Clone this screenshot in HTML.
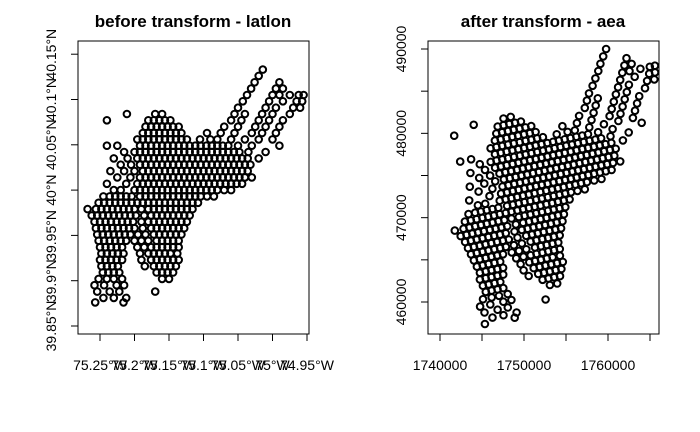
<!DOCTYPE html>
<html><head><meta charset="utf-8"><style>
html,body{margin:0;padding:0;background:#fff;}
svg{display:block;font-family:"Liberation Sans",Arial,sans-serif;}
</style></head><body>
<svg id="chart" width="700" height="432" viewBox="0 0 700 432">
<rect width="700" height="432" fill="#fff"/>
<text x="193" y="27" text-anchor="middle" font-size="17" font-weight="bold">before transform - latlon</text>
<text x="543" y="27" text-anchor="middle" font-size="17" font-weight="bold">after transform - aea</text>
<g id="leftPts"></g>
<g id="rightPts"></g>
<g id="leftAxes"></g>
<g id="rightAxes"></g>
<rect x="78" y="41" width="231" height="293" fill="none" stroke="#000"/>
<rect x="428" y="41" width="231" height="293" fill="none" stroke="#000"/>
</svg>
<script>
// rows: [latitude N, [longitudes W...]]
const rows = [
[40.133,[75.014]],
[40.126,[75.020]],
[40.119,[75.026,74.990]],
[40.112,[75.031,74.995,74.985]],
[40.105,[75.037,75.000,74.990,74.975,74.962,74.955]],
[40.098,[75.043,75.005,74.985,74.965,74.957]],
[40.091,[75.050,75.010,74.995,74.970,74.960]],
[40.084,[75.211,75.170,75.160,75.055,75.040,75.015,75.000,74.975]],
[40.077,[75.240,75.180,75.172,75.164,75.156,75.148,75.060,75.045,75.020,75.005,74.985]],
[40.070,[75.184,75.176,75.168,75.160,75.152,75.144,75.136,75.070,75.050,75.025,75.010,74.990]],
[40.063,[75.188,75.180,75.172,75.164,75.156,75.148,75.140,75.132,75.095,75.075,75.055,75.030,75.015,74.995]],
[40.056,[75.196,75.188,75.180,75.172,75.164,75.156,75.148,75.140,75.132,75.124,75.105,75.090,75.080,75.060,75.040,75.020,75.000]],
[40.049,[75.240,75.225,75.192,75.184,75.176,75.168,75.160,75.152,75.144,75.136,75.128,75.120,75.112,75.104,75.096,75.088,75.080,75.072,75.064,75.050,75.030,74.990]],
[40.042,[75.215,75.200,75.192,75.184,75.176,75.168,75.160,75.152,75.144,75.136,75.128,75.120,75.112,75.104,75.096,75.088,75.080,75.072,75.064,75.056,75.048,75.035,75.010]],
[40.035,[75.230,75.210,75.196,75.188,75.180,75.172,75.164,75.156,75.148,75.140,75.132,75.124,75.116,75.108,75.100,75.092,75.084,75.076,75.068,75.060,75.052,75.044,75.036,75.020]],
[40.028,[75.220,75.205,75.192,75.184,75.176,75.168,75.160,75.152,75.144,75.136,75.128,75.120,75.112,75.104,75.096,75.088,75.080,75.072,75.064,75.056,75.048,75.040,75.032]],
[40.021,[75.235,75.215,75.200,75.188,75.180,75.172,75.164,75.156,75.148,75.140,75.132,75.124,75.116,75.108,75.100,75.092,75.084,75.076,75.068,75.060,75.052,75.044,75.036]],
[40.014,[75.225,75.206,75.192,75.184,75.176,75.168,75.160,75.152,75.144,75.136,75.128,75.120,75.112,75.104,75.096,75.088,75.080,75.072,75.064,75.056,75.048,75.040,75.030]],
[40.007,[75.240,75.212,75.196,75.188,75.180,75.172,75.164,75.156,75.148,75.140,75.132,75.124,75.116,75.108,75.100,75.092,75.084,75.076,75.068,75.060,75.052,75.044]],
[40.000,[75.230,75.220,75.200,75.192,75.184,75.176,75.168,75.160,75.152,75.144,75.136,75.128,75.120,75.112,75.104,75.096,75.088,75.080,75.070,75.060]],
[39.993,[75.245,75.236,75.228,75.220,75.212,75.204,75.192,75.184,75.176,75.168,75.160,75.152,75.144,75.136,75.128,75.120,75.112,75.104,75.095,75.085]],
[39.986,[75.252,75.244,75.236,75.228,75.220,75.212,75.204,75.196,75.188,75.180,75.172,75.164,75.156,75.148,75.140,75.132,75.124,75.116,75.108]],
[39.979,[75.268,75.256,75.248,75.240,75.232,75.224,75.216,75.208,75.200,75.190,75.180,75.172,75.164,75.156,75.148,75.140,75.132,75.124,75.116]],
[39.972,[75.262,75.254,75.246,75.238,75.230,75.222,75.214,75.206,75.198,75.186,75.176,75.168,75.160,75.152,75.144,75.136,75.128,75.120]],
[39.965,[75.258,75.250,75.242,75.234,75.226,75.218,75.210,75.202,75.190,75.180,75.172,75.164,75.156,75.148,75.140,75.132,75.124]],
[39.958,[75.256,75.248,75.240,75.232,75.224,75.216,75.208,75.200,75.188,75.176,75.168,75.160,75.152,75.144,75.136,75.128]],
[39.951,[75.254,75.246,75.238,75.230,75.222,75.214,75.206,75.195,75.184,75.172,75.164,75.156,75.148,75.140,75.132]],
[39.944,[75.252,75.244,75.236,75.228,75.220,75.212,75.200,75.190,75.180,75.168,75.160,75.152,75.144,75.136]],
[39.937,[75.250,75.242,75.234,75.226,75.218,75.196,75.186,75.176,75.168,75.160,75.152,75.144,75.136]],
[39.930,[75.248,75.240,75.232,75.224,75.216,75.192,75.180,75.172,75.164,75.156,75.148,75.138]],
[39.923,[75.250,75.242,75.234,75.226,75.218,75.190,75.176,75.168,75.160,75.152,75.144,75.136]],
[39.916,[75.248,75.240,75.232,75.224,75.185,75.172,75.164,75.156,75.148,75.140]],
[39.909,[75.246,75.238,75.230,75.222,75.168,75.160,75.152,75.144]],
[39.902,[75.252,75.240,75.230,75.218,75.160,75.150]],
[39.895,[75.258,75.244,75.226,75.215]],
[39.888,[75.254,75.236,75.222,75.170]],
[39.881,[75.245,75.230,75.212]],
[39.876,[75.257,75.216]]
];
const latTicks = [39.85,39.9,39.95,40,40.05,40.1,40.15];
const latTickLabels = ["39.85°N","39.9°N","39.95°N","40°N","40.05°N","40.1°N","40.15°N"];
const lonTicks = [75.25,75.2,75.15,75.1,75.05,75,74.95];
const lonTickLabels = ["75.25°W","75.2°W","75.15°W","75.1°W","75.05°W","75°W","74.95°W"];
const aeaXTicks = [1740000,1745000,1750000,1755000,1760000,1765000];
const aeaXLabels = ["1740000","","1750000","","1760000",""];
const aeaYTicks = [460000,465000,470000,475000,480000,485000,490000];
const aeaYLabels = ["460000","","470000","","480000","","490000"];

const NS="http://www.w3.org/2000/svg";
function mk(tag,attrs,parent){const e=document.createElementNS(NS,tag);for(const k in attrs)e.setAttribute(k,attrs[k]);parent.appendChild(e);return e;}
function lxW(w){return 100+(75.25-w)/0.05*34.5;}
function lyN(n){return 326-(n-39.85)/0.05*45.3;}
function rx(X){return 440+(X-1740000)*0.0084;}
function ry(Y){return 302-(Y-460000)*0.008433;}
// spherical Albers equal area with empirical easting calibration
function aea(lonW,lat){
  const d=Math.PI/180,R=6371000,p1=29.5*d,p2=45.5*d,p0=37.5*d;
  const n=(Math.sin(p1)+Math.sin(p2))/2,C=Math.cos(p1)**2+2*n*Math.sin(p1);
  const rho=R*Math.sqrt(C-2*n*Math.sin(lat*d))/n,rho0=R*Math.sqrt(C-2*n*Math.sin(p0))/n;
  const th=n*((-lonW)-(-96))*d;
  const X=rho*Math.sin(th),Y=rho0-rho*Math.cos(th);
  return [1741200+(X-1736071)*1.05,Y];
}
const gl=document.getElementById('leftPts'),gr=document.getElementById('rightPts');
rows.forEach(r=>{const lat=r[0];r[1].forEach(w=>{
  const c=mk('circle',{cx:lxW(w).toFixed(1),cy:lyN(lat).toFixed(1),r:3.3,fill:'none',stroke:'#000','stroke-width':2},gl);
  
  
  const p=aea(w,lat);
  const c2=mk('circle',{cx:rx(p[0]).toFixed(1),cy:ry(p[1]).toFixed(1),r:3.3,fill:'none',stroke:'#000','stroke-width':2},gr);
  
  
});});
const la=document.getElementById('leftAxes');
mk('line',{x1:78,x2:78,y1:lyN(latTicks[0]),y2:lyN(latTicks[latTicks.length-1]),stroke:'#000'},la);
latTicks.forEach((t,i)=>{const y=lyN(t);mk('line',{x1:71,x2:78,y1:y,y2:y,stroke:'#000'},la);
  const tx=mk('text',{x:0,y:0,transform:`translate(56,${y}) rotate(-90)`,'text-anchor':'middle','font-size':14},la);tx.textContent=latTickLabels[i];
  
  });
mk('line',{x1:lxW(lonTicks[0]),x2:lxW(lonTicks[lonTicks.length-1]),y1:334,y2:334,stroke:'#000'},la);
lonTicks.forEach((t,i)=>{const x=lxW(t);mk('line',{x1:x,x2:x,y1:334,y2:341,stroke:'#000'},la);
  const tx=mk('text',{x:x,y:370,'text-anchor':'middle','font-size':14},la);tx.textContent=lonTickLabels[i];
  
  });
const ra=document.getElementById('rightAxes');
mk('line',{x1:428,x2:428,y1:ry(aeaYTicks[0]),y2:ry(aeaYTicks[aeaYTicks.length-1]),stroke:'#000'},ra);
aeaYTicks.forEach((t,i)=>{const y=ry(t);mk('line',{x1:421,x2:428,y1:y,y2:y,stroke:'#000'},ra);
  if(aeaYLabels[i]){const tx=mk('text',{x:0,y:0,transform:`translate(406,${y}) rotate(-90)`,'text-anchor':'middle','font-size':14},ra);tx.textContent=aeaYLabels[i];
  
  }});
mk('line',{x1:rx(aeaXTicks[0]),x2:rx(aeaXTicks[aeaXTicks.length-1]),y1:334,y2:334,stroke:'#000'},ra);
aeaXTicks.forEach((t,i)=>{const x=rx(t);mk('line',{x1:x,x2:x,y1:334,y2:341,stroke:'#000'},ra);
  if(aeaXLabels[i]){const tx=mk('text',{x:x,y:370,'text-anchor':'middle','font-size':14},ra);tx.textContent=aeaXLabels[i];
  
  }});
</script>
</body></html>
